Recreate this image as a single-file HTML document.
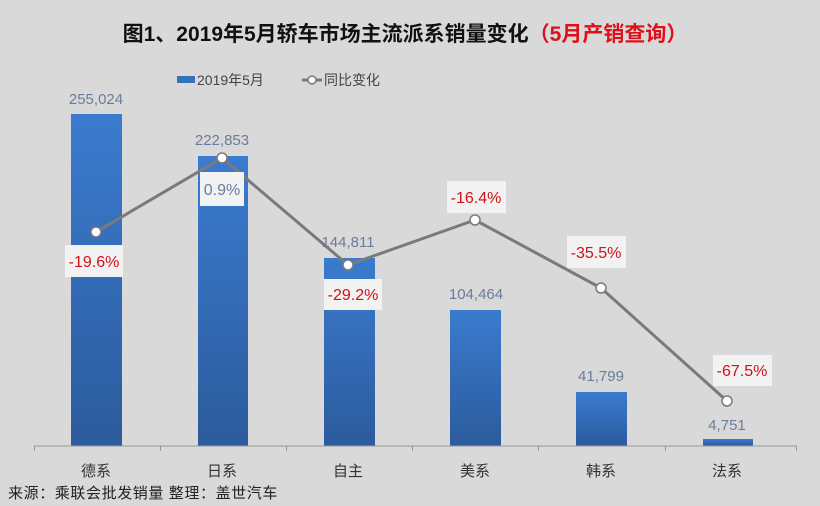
<!DOCTYPE html>
<html><head><meta charset="utf-8"><style>
body{margin:0;background:#d9d9d9;}
svg{display:block;font-family:"Liberation Sans","Noto Sans CJK SC",sans-serif;}
</style></head><body>
<svg width="820" height="506" viewBox="0 0 820 506">
<defs><linearGradient id="g" x1="0" y1="0" x2="0" y2="1"><stop offset="0" stop-color="#3b7bcf"/><stop offset="1" stop-color="#2b5b9c"/></linearGradient></defs>
<rect width="820" height="506" fill="#d9d9d9"/>
<text x="405" y="41" text-anchor="middle" font-size="21" font-weight="bold" fill="#111">图1、2019年5月轿车市场主流派系销量变化<tspan fill="#e0101a">（5月产销查询）</tspan></text>
<rect x="177" y="76" width="18" height="7" fill="#3570bd"/>
<text x="197" y="85" font-size="14" fill="#444">2019年5月</text>
<line x1="302" y1="80" x2="322" y2="80" stroke="#7a7a7a" stroke-width="3"/>
<circle cx="312" cy="80" r="4" fill="#fff" stroke="#7a7a7a" stroke-width="1.5"/>
<text x="324" y="85" font-size="14" fill="#444">同比变化</text>
<g fill="url(#g)">
<rect x="71" y="114" width="51" height="332"/>
<rect x="198" y="156" width="50" height="290"/>
<rect x="324" y="258" width="51" height="188"/>
<rect x="450" y="310" width="51" height="136"/>
<rect x="576" y="392" width="51" height="54"/>
<rect x="703" y="439" width="50" height="7"/>
</g>
<line x1="34" y1="446" x2="797" y2="446" stroke="#999"/>
<g stroke="#999">
<line x1="34.5" y1="446" x2="34.5" y2="451"/><line x1="160.5" y1="446" x2="160.5" y2="451"/><line x1="286.5" y1="446" x2="286.5" y2="451"/><line x1="412.5" y1="446" x2="412.5" y2="451"/><line x1="538.5" y1="446" x2="538.5" y2="451"/><line x1="665.5" y1="446" x2="665.5" y2="451"/><line x1="796.5" y1="446" x2="796.5" y2="451"/>
</g>
<g font-size="15" fill="#6a7d9a" text-anchor="middle">
<text x="96" y="104">255,024</text><text x="222" y="145">222,853</text><text x="348" y="247">144,811</text><text x="476" y="299">104,464</text><text x="601" y="381">41,799</text><text x="727" y="430">4,751</text>
</g>
<polyline points="96,232 222,158 348,265 475,220 601,288 727,401" fill="none" stroke="#7a7a7a" stroke-width="3"/>
<g fill="#fff" stroke="#7a7a7a" stroke-width="1.5">
<circle cx="96" cy="232" r="5"/><circle cx="222" cy="158" r="5"/><circle cx="348" cy="265" r="5"/><circle cx="475" cy="220" r="5"/><circle cx="601" cy="288" r="5"/><circle cx="727" cy="401" r="5"/>
</g>
<g fill="#f2f2f2">
<rect x="65" y="245" width="58" height="32"/><rect x="200" y="172" width="44" height="34"/><rect x="324" y="279" width="58" height="31"/><rect x="447" y="181" width="59" height="32"/><rect x="567" y="236" width="59" height="32"/><rect x="713" y="355" width="59" height="31"/>
</g>
<g font-size="16" fill="#d0101a" text-anchor="middle">
<text x="94" y="267">-19.6%</text><text x="222" y="195" fill="#6a7d9a">0.9%</text><text x="353" y="300">-29.2%</text><text x="476" y="203">-16.4%</text><text x="596" y="258">-35.5%</text><text x="742" y="376">-67.5%</text>
</g>
<g font-size="15" fill="#333" text-anchor="middle">
<text x="96" y="476">德系</text><text x="222" y="476">日系</text><text x="348" y="476">自主</text><text x="475" y="476">美系</text><text x="601" y="476">韩系</text><text x="727" y="476">法系</text>
</g>
<text x="8" y="498" font-size="15" fill="#222" letter-spacing="0.6">来源：乘联会批发销量  整理：盖世汽车</text>
</svg>
</body></html>
